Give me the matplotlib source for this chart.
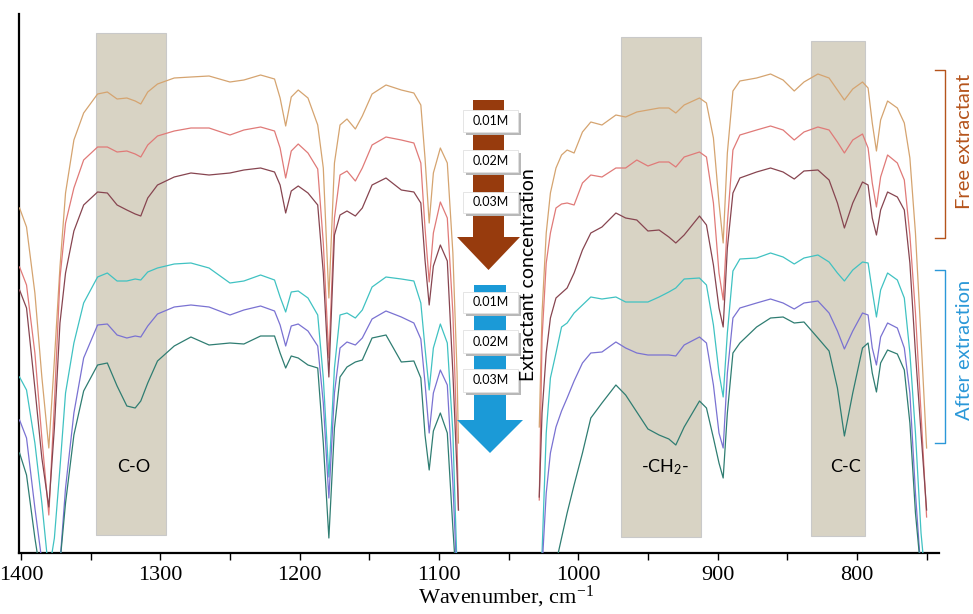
import numpy as np
import matplotlib.pyplot as plt
from matplotlib.patches import Rectangle, Polygon
from matplotlib.ticker import MultipleLocator

# wavenumber grids (cm-1); the spectra have a gap between ~1086 and ~1028
wn_left = [1401, 1396, 1390, 1385, 1380, 1376, 1372, 1368, 1362, 1355,
           1345, 1338, 1331, 1324, 1318, 1314, 1309, 1302, 1290, 1278,
           1265, 1250, 1240, 1228, 1218, 1214, 1210, 1206, 1201, 1194,
           1187, 1183, 1179, 1175, 1171, 1166, 1160, 1155, 1148, 1138,
           1127, 1118, 1113, 1110, 1107, 1104, 1099, 1094, 1090, 1087, 1086]
wn_right = [1028, 1026, 1023, 1020, 1016, 1012, 1008, 1003, 997, 991,
            983, 973, 966, 958, 950, 942, 935, 930, 924, 913,
            908, 903, 899, 896, 893, 889, 884, 872, 862, 853,
            845, 838, 828, 820, 814, 809, 803, 796, 792, 789,
            786, 783, 778, 771, 766, 762, 758, 754, 750]

# transmittance, arbitrary units (curves are offset)
free_01_left = [345, 326, 260, 176, 105, 193, 286, 360, 413, 440,
                459, 461, 454, 455, 452, 449, 461, 469, 475, 476,
                477, 471, 473, 478, 474, 455, 427, 456, 463, 455,
                428, 385, 255, 390, 428, 434, 424, 437, 459, 468,
                463, 460, 448, 395, 330, 380, 405, 390, 300, 180, 110]
free_02_left = [286, 268, 200, 115, 38, 150, 275, 330, 365, 393,
                406, 406, 401, 402, 399, 396, 408, 417, 422, 425,
                425, 418, 423, 426, 422, 405, 375, 402, 409, 400,
                384, 310, 195, 335, 378, 382, 372, 385, 408, 416,
                413, 410, 390, 325, 271, 320, 351, 335, 240, 110, 43]
free_03_left = [263, 245, 165, 95, 46, 125, 230, 280, 322, 348,
                361, 360, 348, 343, 339, 337, 355, 368, 376, 380,
                378, 380, 383, 385, 381, 368, 340, 362, 367, 360,
                348, 280, 176, 318, 338, 342, 337, 345, 368, 375,
                363, 361, 350, 293, 248, 287, 308, 292, 180, 80, 43]
after_01_left = [176, 163, 110, 50, -20, 15, 85, 160, 210, 250,
                 276, 280, 272, 272, 274, 273, 281, 285, 289, 290,
                 285, 270, 272, 278, 273, 256, 241, 261, 262, 255,
                 238, 175, 76, 185, 238, 240, 235, 243, 266, 276,
                 274, 272, 250, 205, 163, 205, 229, 210, 120, -15, -40]
after_02_left = [133, 115, 45, -8, -30, -30, -10, 65, 140, 195,
                 228, 229, 218, 215, 217, 216, 227, 239, 246, 248,
                 246, 238, 243, 247, 242, 228, 207, 227, 229, 222,
                 207, 150, 55, 160, 205, 211, 208, 215, 234, 242,
                 236, 230, 214, 170, 120, 160, 183, 168, 70, -30, -50]
after_03_left = [100, 78, 15, -30, -40, -40, -10, 50, 118, 162,
                 188, 190, 167, 147, 145, 152, 170, 192, 207, 216,
                 208, 210, 209, 217, 217, 200, 185, 197, 195, 188,
                 185, 110, 15, 125, 176, 186, 191, 193, 215, 218,
                 191, 192, 175, 118, 83, 122, 140, 120, 25, -40, -50]

free_01_right = [126, 240, 320, 360, 385, 398, 403, 400, 421, 431,
                 428, 438, 436, 441, 443, 445, 445, 440, 448, 455,
                 450, 415, 350, 310, 400, 462, 472, 475, 479, 473,
                 462, 471, 479, 475, 463, 453, 464, 471, 465, 430,
                 402, 433, 452, 445, 430, 395, 320, 215, 105]
free_02_right = [53, 215, 290, 320, 345, 349, 350, 348, 370, 378,
                 376, 385, 385, 393, 387, 391, 391, 386, 396, 401,
                 396, 350, 280, 253, 330, 403, 418, 423, 427, 423,
                 413, 421, 426, 423, 411, 400, 413, 419, 405, 370,
                 346, 376, 398, 390, 373, 318, 240, 140, 36]
free_03_right = [56, 140, 200, 235, 255, 260, 265, 280, 303, 320,
                 326, 340, 335, 333, 322, 323, 316, 310, 318, 337,
                 328, 288, 245, 226, 305, 360, 375, 381, 385, 381,
                 374, 382, 383, 373, 350, 325, 350, 371, 368, 335,
                 318, 343, 361, 356, 343, 290, 200, 120, 43]
after_01_right = [-30, 0, 120, 175, 200, 226, 230, 240, 248, 256,
                  254, 256, 251, 251, 251, 256, 261, 265, 274, 275,
                  268, 228, 180, 156, 220, 282, 294, 295, 300, 296,
                  289, 295, 298, 291, 280, 272, 283, 291, 290, 262,
                  236, 263, 280, 273, 255, 200, 120, 20, -40]
after_02_right = [-40, -15, 60, 100, 126, 142, 155, 172, 190, 200,
                  201, 211, 205, 200, 198, 198, 198, 197, 208, 216,
                  210, 168, 120, 105, 180, 235, 245, 250, 254, 250,
                  244, 250, 252, 240, 222, 204, 222, 240, 238, 205,
                  188, 216, 230, 225, 205, 160, 60, -20, -40]
after_03_right = [-60, -60, -60, -40, -10, 15, 40, 68, 100, 135,
                  150, 168, 158, 141, 124, 118, 114, 108, 126, 152,
                  145, 115, 90, 75, 140, 200, 210, 226, 235, 236,
                  230, 231, 215, 202, 165, 117, 160, 205, 210, 180,
                  161, 190, 203, 199, 183, 130, 40, -20, -40]

curves = [
    (free_01_left, free_01_right, "#d5a470"),
    (free_02_left, free_02_right, "#e07a78"),
    (free_03_left, free_03_right, "#874550"),
    (after_01_left, after_01_right, "#40c2c2"),
    (after_02_left, after_02_right, "#7a72d2"),
    (after_03_left, after_03_right, "#2f7d72"),
]

# shaded assignment bands
band_lo = [1296, 912, 794]
band_hi = [1346, 969, 833]
band_bottom = [18, 16, 17]
band_top = [520, 516, 512]
band_text = ["C-O", "-CH$\\mathregular{_2}$-", "C-C"]
band_text_x = [1319, 938, 808]
band_text_y = 86

conc_labels = ["0.01M", "0.02M", "0.03M"]

brown = "#973b0d"
blue = "#1b9ad7"
sans = "Lato"

fig = plt.figure(figsize=(9.73, 6.14), dpi=100)
ax = fig.add_axes([19/973, 61/614, 920/973, 539/614])

for lo, hi, b0, b1 in zip(band_lo, band_hi, band_bottom, band_top):
    ax.add_patch(Rectangle((hi, b0), lo - hi, b1 - b0, facecolor="#d8d3c4",
                           edgecolor="#c9c9c9", linewidth=0.8, zorder=1))
for txt, tx in zip(band_text, band_text_x):
    ax.text(tx, band_text_y, txt, ha="center", va="center", fontsize=13,
            family=sans, zorder=4)

for yl, yr, col in curves:
    ax.plot(wn_left, yl, color=col, lw=0.9, zorder=3)
    ax.plot(wn_right, yr, color=col, lw=0.9, zorder=3)

ax.set_xlim(1401.4, 741.1)
ax.set_ylim(0, 539)
ax.set_yticks([])
ax.xaxis.set_major_locator(MultipleLocator(100))
ax.xaxis.set_minor_locator(MultipleLocator(50))
ax.tick_params(axis="x", which="both", direction="out", length=5, width=1,
               pad=4, labelsize=16)
for lab in ax.get_xticklabels():
    lab.set_family("Liberation Serif")
for s in ["top", "right"]:
    ax.spines[s].set_visible(False)
for s in ["left", "bottom"]:
    ax.spines[s].set_linewidth(1.6)
ax.set_xlabel("Wavenumber, cm$\\mathregular{^{-1}}$", fontsize=16,
              family="Liberation Serif", va="center")
ax.xaxis.set_label_coords(0.529, -0.082)


def pf(px, py):
    # pixel position in the picture -> axes fraction
    return ((px - 19) / 920, (553 - py) / 539)


def arrow(top, head, tip, x0, x1, hx0, hx1, color):
    xc = (hx0 + hx1) / 2
    pts = [pf(x0, top), pf(x1, top), pf(x1, head), pf(hx1, head),
           pf(xc, tip), pf(hx0, head), pf(x0, head)]
    ax.add_patch(Polygon(pts, closed=True, facecolor=color, edgecolor="none",
                         transform=ax.transAxes, clip_on=False, zorder=5))


def conc_box(py0, py1, label):
    x0, y0 = pf(463, py1)
    x1, y1 = pf(518, py0)
    dx, dy = 3 / 920, 3 / 539
    ax.add_patch(Rectangle((x0 + dx, y0 - dy), x1 - x0, y1 - y0,
                           facecolor="#b8b8b8", edgecolor="none",
                           transform=ax.transAxes, clip_on=False, zorder=6))
    ax.add_patch(Rectangle((x0, y0), x1 - x0, y1 - y0, facecolor="white",
                           edgecolor="#e0e0e0", linewidth=0.6,
                           transform=ax.transAxes, clip_on=False, zorder=7))
    ax.text((x0 + x1) / 2, (y0 + y1) / 2, label, ha="center", va="center",
            fontsize=9, family=sans, transform=ax.transAxes, zorder=8)


arrow(100, 237, 270, 473, 504, 457, 520, brown)
arrow(285, 420, 453, 474, 506, 457, 523, blue)
for (a, b), lab in zip([(110, 132), (150, 172), (192, 213)], conc_labels):
    conc_box(a, b, lab)
for (a, b), lab in zip([(292, 313), (330, 353), (369, 392)], conc_labels):
    conc_box(a, b, lab)

ax.text(*pf(528, 275), "Extractant concentration", rotation=90, ha="center",
        va="center", fontsize=14, family=sans, transform=ax.transAxes,
        zorder=8)

# group brackets on the right
for py0, py1, col, lab, ty in [(70, 238, "#b5541c", "Free extractant", 141),
                               (270, 443, "#2b98d8", "After extraction", 350)]:
    xs = [pf(935, 0)[0], pf(945, 0)[0], pf(945, 0)[0], pf(935, 0)[0]]
    ys = [pf(0, py0)[1], pf(0, py0)[1], pf(0, py1)[1], pf(0, py1)[1]]
    ax.plot(xs, ys, color=col, lw=1, transform=ax.transAxes, clip_on=False)
    ax.text(*pf(965, ty), lab, rotation=90, ha="center", va="center",
            fontsize=14.5, family=sans, color=col, transform=ax.transAxes)

fig.savefig("out.png", dpi=100)
